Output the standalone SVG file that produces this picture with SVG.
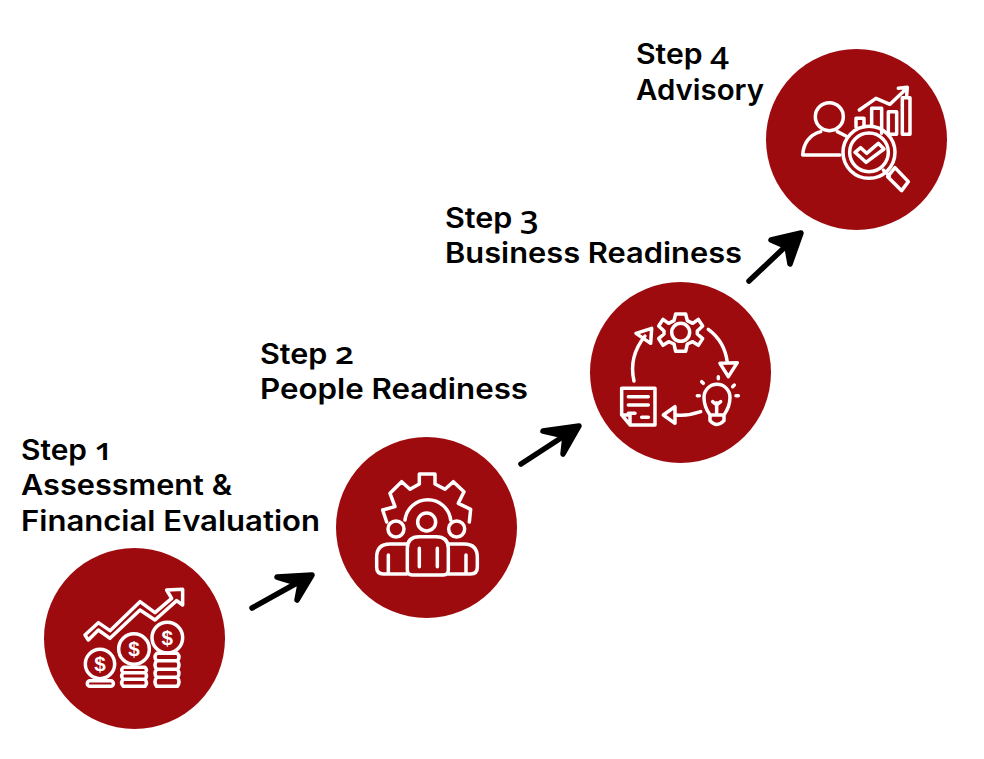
<svg xmlns="http://www.w3.org/2000/svg" width="984" height="759" viewBox="0 0 984 759">
<style>
.disc{fill:#9e0b0f}
.ic{fill:none;stroke:#fff;stroke-width:10.5;stroke-linejoin:round;stroke-linecap:round}
.lb{font-family:"Inter","Liberation Sans",sans-serif;font-weight:600;font-size:28px;fill:#000}
.nm{font-family:"Open Sans","Noto Sans",sans-serif;font-weight:600;font-size:31px;font-variant-numeric:oldstyle-nums;font-feature-settings:"onum"}
.ds{font-family:"Liberation Sans",sans-serif;font-weight:700;font-size:62px;fill:#fff;text-anchor:middle}
.ar{fill:#000;stroke:#000;stroke-width:5.5;stroke-linecap:round;stroke-linejoin:round}
</style>
<rect width="984" height="759" fill="#fff"/>
<g id="connectors">
<path class="ar" d="M252 608L296 583.500M277 577L312 575L297 600L300 584Z"/>
<path class="ar" d="M521 464L564 436M543 431L579 426L563 454L565 436Z"/>
<path class="ar" d="M749 281L786 246M771 240L801 233L790 264L787 247Z"/>
</g>
<g id="step1">
<circle class="disc" cx="134.5" cy="638.5" r="90.5"/>
<g transform="translate(60 570) scale(.3333)">
<path class="ic" d="M75 195L115 158L150 182L240 95L285 128L335 85L320 60L368 58L368 105L350 92L285 150L240 120L150 205L115 180L85 210Z"/>
<circle class="ic" cx="120" cy="282" r="44"/>
<circle class="ic" cx="222" cy="237" r="46"/>
<circle class="ic" cx="322" cy="203" r="46"/>
<text class="ds" x="120" y="304">$</text>
<text class="ds" x="222" y="259">$</text>
<text class="ds" x="322" y="225">$</text>
<rect class="ic" x="82" y="332" width="78" height="17" rx="8"/>
<path class="ic" d="M190 292H255Q264 300 255 308H190Q180 300 190 292ZM190 308H255Q264 318 255 328H190Q180 318 190 308ZM190 328H255Q264 338 255 349H190Q180 338 190 328Z"/>
<path class="ic" d="M290 250H352Q362 261 352 272H290Q280 261 290 250ZM290 272H352Q362 285 352 298H290Q280 285 290 272ZM290 298H352Q362 310 352 322H290Q280 310 290 298ZM290 322H352Q362 336 352 349H290Q280 336 290 322Z"/>
</g>
<text class="lb" x="21" y="460" textLength="92" lengthAdjust="spacingAndGlyphs">Step <tspan class="nm">1</tspan></text>
<text class="lb" x="21" y="495" textLength="211" lengthAdjust="spacingAndGlyphs">Assessment &amp;</text>
<text class="lb" x="21" y="531" textLength="299" lengthAdjust="spacingAndGlyphs">Financial Evaluation</text>
</g>
<g id="step2">
<circle class="disc" cx="426.5" cy="527.5" r="90.5"/>
<g transform="translate(360 460) scale(.3333)">
<path class="ic" d="M80 186L68 150L105 140L90 100L125 65L150 88L178 72V42H225V72L255 88L280 65L312 95L295 130L332 148L328 186"/>
<path class="ic" d="M135 180A69 69 0 0 1 272 180"/>
<circle class="ic" cx="200" cy="186" r="27"/>
<circle class="ic" cx="108" cy="207" r="24"/>
<circle class="ic" cx="290" cy="207" r="24"/>
<path class="ic" d="M142 330V265Q142 230 178 230H228Q265 230 265 265V330Q265 345 250 345H157Q142 345 142 330ZM178 265V320M232 265V320"/>
<path class="ic" d="M140 252H90Q50 252 50 292V322Q50 342 70 342H140M85 285V340"/>
<path class="ic" d="M265 252H312Q352 252 352 292V322Q352 342 332 342H265M318 285V340"/>
</g>
<text class="lb" x="260" y="364" textLength="94" lengthAdjust="spacingAndGlyphs">Step <tspan class="nm">2</tspan></text>
<text class="lb" x="260" y="399" textLength="268" lengthAdjust="spacingAndGlyphs">People Readiness</text>
</g>
<g id="step3">
<circle class="disc" cx="680.5" cy="372.5" r="90.5"/>
<g transform="translate(610 300) scale(.3333)">
<path class="ic" d="M197 42H227L232 62L248 70L265 58L278 78L262 93V102L278 116L265 136L248 125L232 132L227 154H197L192 132L176 125L159 136L146 116L162 102V93L146 78L159 58L176 70L192 62Z"/>
<circle class="ic" cx="212" cy="97" r="27"/>
<path class="ic" d="M295 88Q345 125 352 188M330 190L382 188L355 230Z"/>
<path class="ic" d="M272 335Q235 348 200 345M160 345L195 320V370Z"/>
<path class="ic" d="M72 243Q55 170 105 108M78 100L125 85L122 130Z"/>
<path class="ic" d="M60 375H135V265H35V345ZM35 345H60V375M55 290H115M55 315H115M55 340H75M95 352H115"/>
<path class="ic" d="M300 345Q282 320 282 292A39 39 0 0 1 360 292Q360 320 342 345V362Q320 385 300 362ZM300 345H342M320 342V308M308 305L320 315L332 305"/>
<path class="ic" d="M325 230V236M373 255L368 260M385 287H378M268 287H262M280 250L275 245"/>
</g>
<text class="lb" x="445" y="228" textLength="94" lengthAdjust="spacingAndGlyphs">Step <tspan class="nm">3</tspan></text>
<text class="lb" x="445" y="263" textLength="297" lengthAdjust="spacingAndGlyphs">Business Readiness</text>
</g>
<g id="step4">
<circle class="disc" cx="856.5" cy="139.5" r="90.5"/>
<g transform="translate(790 75) scale(.3333)">
<circle class="ic" cx="118" cy="125" r="42"/>
<path class="ic" d="M150 240H38Q42 185 92 170M142 170L168 183"/>
<circle class="ic" cx="237" cy="232" r="78"/>
<circle class="ic" cx="237" cy="232" r="58"/>
<path class="ic" d="M195 232L212 218L230 235L265 205L282 222L228 262Z"/>
<path class="ic" d="M280 285L298 303M315 278L355 320L335 347L293 305Z"/>
<path class="ic" d="M198 155V130H222V155M245 150V100H275V175M295 175V110H320V178H295M337 178V68H360V178Z"/>
<path class="ic" d="M208 105L258 70L300 88L345 45M325 40L352 37L350 62"/>
</g>
<text class="lb" x="636" y="64" textLength="93" lengthAdjust="spacingAndGlyphs">Step <tspan class="nm">4</tspan></text>
<text class="lb" x="636" y="100" textLength="128" lengthAdjust="spacingAndGlyphs">Advisory</text>
</g>
</svg>
